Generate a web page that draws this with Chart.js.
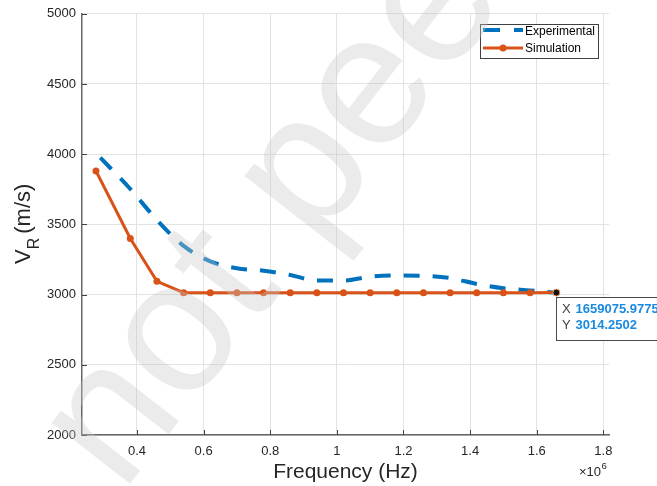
<!DOCTYPE html>
<html><head><meta charset="utf-8">
<script src="https://cdn.jsdelivr.net/npm/chart.js@4.4.1/dist/chart.umd.min.js"></script>
<style>html,body{margin:0;padding:0;background:#fff;overflow:hidden}canvas{display:block}</style>
</head><body>
<canvas id="c" width="657" height="486" style="width:657px;height:486px"></canvas>
<script>
// ---- data ----
const simFreq = [277000, 380000, 460000, 540000, 620000, 700000, 780000, 860000, 940000, 1020000, 1100000, 1180000, 1260000, 1340000, 1420000, 1500000, 1580000, 1659075.9775];
const simVel  = [3880, 3400, 3095, 3014, 3014, 3014, 3014, 3014, 3014, 3014, 3014, 3014, 3014, 3014, 3014, 3014, 3014, 3014.2502];
const expFreq = [290000, 380000, 460000, 540000, 620000, 700000, 780000, 860000, 940000, 1020000, 1100000, 1180000, 1260000, 1340000, 1420000, 1500000, 1580000, 1659075.9775];
const expVel  = [3975, 3752, 3531, 3347, 3237, 3188, 3170, 3140, 3100, 3100, 3128, 3136, 3134, 3118, 3076, 3045, 3030, 3014];
const xTicks  = [400000, 600000, 800000, 1000000, 1200000, 1400000, 1600000, 1800000];
const yTicks  = [2000, 2500, 3000, 3500, 4000, 4500, 5000];
const seriesNames = ['Experimental', 'Simulation'];
const xTitle = 'Frequency (Hz)';
const watermarkText = 'not peer reviewed';

const FONT = '"Liberation Sans", Arial, Helvetica, sans-serif';
const TXT = '#262626';
const BLUE = '#0072BD', ORANGE = '#D95319';

const deco = {
  id: 'deco',
  afterDraw(chart) {
    const ctx = chart.ctx;
    const {left, right, top, bottom} = chart.chartArea;
    const xs = chart.scales.x, ys = chart.scales.y;
    ctx.save();
    // inward tick marks (MATLAB style)
    ctx.strokeStyle = '#404040'; ctx.lineWidth = 1;
    xTicks.forEach(v => {
      const px = Math.round(xs.getPixelForValue(v)) + 0.5;
      ctx.beginPath(); ctx.moveTo(px, bottom); ctx.lineTo(px, bottom - 5); ctx.stroke();
    });
    yTicks.forEach(v => {
      const py = Math.round(ys.getPixelForValue(v)) + 0.5;
      ctx.beginPath(); ctx.moveTo(left, py); ctx.lineTo(left + 5, py); ctx.stroke();
    });

    // y-axis title  V_R (m/s)
    ctx.save();
    ctx.translate(30, 264);
    ctx.rotate(-Math.PI / 2);
    ctx.fillStyle = TXT; ctx.textBaseline = 'alphabetic'; ctx.textAlign = 'left';
    ctx.font = '22px ' + FONT;
    ctx.fillText('V', 0, 0);
    const vw = ctx.measureText('V').width;
    ctx.font = '16px ' + FONT;
    ctx.fillText('R', vw, 9);
    const rw = ctx.measureText('R').width;
    ctx.font = '22px ' + FONT;
    ctx.fillText('(m/s)', vw + rw + 4, 0);
    ctx.restore();

    // x exponent  ×10^6
    ctx.fillStyle = TXT; ctx.textBaseline = 'middle'; ctx.textAlign = 'left';
    ctx.font = '13px ' + FONT;
    ctx.fillText('\u00d710', 579, 472);
    const ew = ctx.measureText('\u00d710').width;
    ctx.font = '9.5px ' + FONT;
    ctx.fillText('6', 579 + ew + 0.5, 466);

    // legend
    const lx = 480, ly = 24, lw = 118, lh = 34;
    ctx.fillStyle = '#fff'; ctx.fillRect(lx, ly, lw, lh);
    ctx.strokeStyle = '#404040'; ctx.lineWidth = 1;
    ctx.strokeRect(lx + 0.5, ly + 0.5, lw, lh);
    const ds0 = chart.data.datasets[0], ds1 = chart.data.datasets[1];
    ctx.save();
    ctx.strokeStyle = ds0.borderColor; ctx.lineWidth = ds0.borderWidth; ctx.lineCap = 'butt';
    ctx.setLineDash([17, 14]);
    ctx.beginPath(); ctx.moveTo(483, 30); ctx.lineTo(523, 30); ctx.stroke();
    ctx.restore();
    ctx.strokeStyle = ds1.borderColor; ctx.lineWidth = ds1.borderWidth;
    ctx.beginPath(); ctx.moveTo(483, 48); ctx.lineTo(523, 48); ctx.stroke();
    ctx.fillStyle = ds1.borderColor;
    ctx.beginPath(); ctx.arc(503, 48, 3.5, 0, Math.PI * 2); ctx.fill();
    ctx.fillStyle = '#000'; ctx.font = '12px ' + FONT; ctx.textBaseline = 'middle';
    ctx.fillText(ds0.label, 525, 32);
    ctx.fillText(ds1.label, 525, 48.5);

    // data tip on last simulation point
    const meta = chart.getDatasetMeta(1);
    const pt = meta.data[meta.data.length - 1];
    const bx = Math.round(pt.x) + 0.5, by = Math.round(pt.y) + 4.5;
    ctx.fillStyle = '#fff'; ctx.fillRect(bx, by, 130, 43);
    ctx.strokeStyle = '#4a4a4a'; ctx.lineWidth = 1; ctx.strokeRect(bx, by, 130, 43);
    ctx.beginPath(); ctx.arc(pt.x, pt.y, 3.5, 0, Math.PI * 2);
    ctx.fillStyle = '#111'; ctx.fill();
    ctx.strokeStyle = '#f0a060'; ctx.lineWidth = 1; ctx.stroke();
    const li = simFreq.length - 1;
    ctx.textBaseline = 'middle'; ctx.textAlign = 'left';
    ctx.font = '13px ' + FONT; ctx.fillStyle = '#404040';
    ctx.fillText('X', bx + 5.5, by + 11.5);
    ctx.fillText('Y', bx + 5.5, by + 28);
    ctx.font = 'bold 13px ' + FONT; ctx.fillStyle = '#1a8ae0';
    ctx.fillText(simFreq[li].toFixed(4), bx + 19, by + 11.5);
    ctx.fillText(simVel[li].toFixed(4), bx + 19, by + 28);

    // watermark overlay
    ctx.save();
    ctx.translate(122, 494);
    ctx.rotate(-52 * Math.PI / 180);
    ctx.font = '188px ' + FONT;
    ctx.fillStyle = 'rgba(200,200,200,0.36)';
    ctx.textBaseline = 'alphabetic'; ctx.textAlign = 'left';
    ctx.fillText(watermarkText, 0, 0);
    ctx.restore();

    ctx.restore();
  }
};

new Chart(document.getElementById('c'), {
  type: 'line',
  data: {
    datasets: [
      {
        label: seriesNames[0],
        data: expFreq.map((x, i) => ({x, y: expVel[i]})),
        borderColor: BLUE, backgroundColor: BLUE, borderWidth: 4,
        borderDash: [16, 13], borderCapStyle: 'butt',
        pointRadius: 0, cubicInterpolationMode: 'monotone', fill: false, order: 2
      },
      {
        label: seriesNames[1],
        data: simFreq.map((x, i) => ({x, y: simVel[i]})),
        borderColor: ORANGE, backgroundColor: ORANGE, borderWidth: 3,
        pointRadius: 3.5, pointBackgroundColor: ORANGE, pointBorderWidth: 0,
        tension: 0, fill: false, order: 1
      }
    ]
  },
  options: {
    responsive: false, animation: false, devicePixelRatio: 1,
    layout: {padding: {top: 13, right: 48, left: 0, bottom: 0}},
    plugins: {legend: {display: false}, tooltip: {enabled: false}},
    scales: {
      x: {
        type: 'linear', min: 235000, max: 1817000,
        afterBuildTicks: s => { s.ticks = xTicks.map(v => ({value: v})); },
        afterFit: s => { s.height = 51; },
        grid: {color: '#e2e2e2', lineWidth: 1, drawTicks: false},
        border: {display: true, color: '#666', width: 1.5},
        ticks: {padding: 9, autoSkip: false, maxRotation: 0, color: TXT,
                font: {family: FONT, size: 13},
                callback: v => (v / 1e6).toString()},
        title: {display: true, text: xTitle, color: TXT,
                font: {family: FONT, size: 21}, padding: {top: 0, bottom: 1}}
      },
      y: {
        type: 'linear', min: 2000, max: 5000,
        afterBuildTicks: s => { s.ticks = yTicks.map(v => ({value: v})); },
        afterFit: s => { s.width = 82; },
        grid: {color: '#e2e2e2', lineWidth: 1, drawTicks: false},
        border: {display: true, color: '#666', width: 1.5},
        ticks: {padding: 6, color: TXT, font: {family: FONT, size: 13},
                callback: v => String(v)}
      }
    }
  },
  plugins: [deco]
});
</script>
</body></html>
